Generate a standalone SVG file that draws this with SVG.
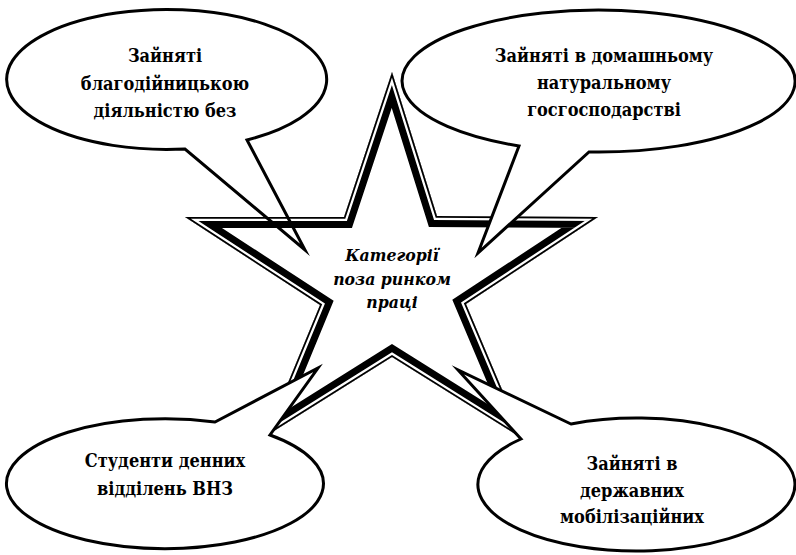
<svg xmlns="http://www.w3.org/2000/svg" width="796" height="555" viewBox="0 0 796 555">
<style>
.bub{fill:#fff;stroke:#000;stroke-width:3;stroke-linejoin:miter;stroke-miterlimit:20}
.t{font-family:'DejaVu Serif Condensed','DejaVu Serif',serif;font-weight:700;font-size:18px;fill:#000;text-anchor:middle}
.ti{font-family:'DejaVu Serif Condensed','DejaVu Serif',serif;font-weight:700;font-style:italic;font-size:17.5px;fill:#000;text-anchor:middle}
.sl{fill:none;stroke-linejoin:miter;stroke-miterlimit:30}
</style>
<defs>
<polygon id="starp" points="392,72 437,216 598,217 466,304 523,439 392,357 266,436 320,305 185,217 344,217"/>
<clipPath id="sc"><use href="#starp"/></clipPath>
<mask id="sm" maskUnits="userSpaceOnUse" x="0" y="0" width="796" height="555">
<g clip-path="url(#sc)">
<use href="#starp" class="sl" stroke="#fff" stroke-width="22"/>
<use href="#starp" class="sl" stroke="#000" stroke-width="8"/>
<use href="#starp" class="sl" stroke="#fff" stroke-width="3.5"/>
</g>
</mask>
</defs>
<rect width="796" height="555" fill="#fff"/>
<g id="node-ul">
<path class="bub" d="M185,149 A160,70 0 1 1 247,140 L305,250 Z"/>
<text class="t" x="165" y="62">Зайняті</text>
<text class="t" x="165" y="90">благодійницькою</text>
<text class="t" x="165" y="117">діяльністю без</text>
</g>
<g id="node-star">
<rect width="796" height="555" fill="#000" mask="url(#sm)"/>
<text class="ti" x="392" y="261">Категорії</text>
<text class="ti" x="392" y="285">поза ринком</text>
<text class="ti" x="392" y="308">праці</text>
</g>
<g id="node-ur">
<path class="bub" d="M519,146 A196.5,71 0 1 1 589,152 L478,253 Z"/>
<text class="t" x="604" y="62">Зайняті в домашньому</text>
<text class="t" x="604" y="89">натуральному</text>
<text class="t" x="604" y="116">госгосподарстві</text>
</g>
<g id="node-ll">
<path class="bub" d="M270,435 A158.5,65 0 1 1 215,422 L318,368 Z"/>
<text class="t" x="165" y="467">Студенти денних</text>
<text class="t" x="165" y="495">відділень ВНЗ</text>
</g>
<g id="node-lr">
<path class="bub" d="M571,424 A158.5,66.5 0 1 1 521,439 L458,370 Z"/>
<text class="t" x="632" y="470">Зайняті в</text>
<text class="t" x="632" y="497">державних</text>
<text class="t" x="632" y="523">мобілізаційних</text>
</g>
<g id="connectors"/>
</svg>
